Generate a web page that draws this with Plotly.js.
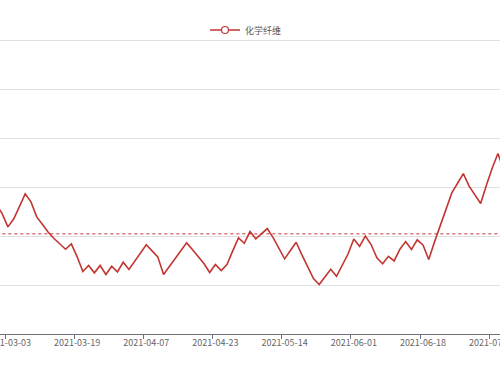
<!DOCTYPE html>
<html>
<head>
<meta charset="utf-8">
<script src="https://cdn.plot.ly/plotly-3.0.1.min.js"></script>
<style>html,body{margin:0;padding:0;background:#fff;}#chart{width:500px;height:375px;}</style>
</head>
<body>
<div id="chart"></div>
<script>
const seriesName = '化学纤维';
const dates = [
  '2021-03-01','2021-03-02','2021-03-03','2021-03-04','2021-03-05','2021-03-08','2021-03-09','2021-03-10','2021-03-11','2021-03-12',
  '2021-03-15','2021-03-16','2021-03-17','2021-03-18','2021-03-19','2021-03-22','2021-03-23','2021-03-24','2021-03-25','2021-03-26',
  '2021-03-29','2021-03-30','2021-03-31','2021-04-01','2021-04-02','2021-04-06','2021-04-07','2021-04-08','2021-04-09','2021-04-12',
  '2021-04-13','2021-04-14','2021-04-15','2021-04-16','2021-04-19','2021-04-20','2021-04-21','2021-04-22','2021-04-23','2021-04-26',
  '2021-04-27','2021-04-28','2021-04-29','2021-04-30','2021-05-06','2021-05-07','2021-05-10','2021-05-11','2021-05-12','2021-05-13',
  '2021-05-14','2021-05-17','2021-05-18','2021-05-19','2021-05-20','2021-05-21','2021-05-24','2021-05-25','2021-05-26','2021-05-27',
  '2021-05-28','2021-05-31','2021-06-01','2021-06-02','2021-06-03','2021-06-04','2021-06-07','2021-06-08','2021-06-09','2021-06-10',
  '2021-06-11','2021-06-15','2021-06-16','2021-06-17','2021-06-18','2021-06-21','2021-06-22','2021-06-23','2021-06-24','2021-06-25',
  '2021-06-28','2021-06-29','2021-06-30','2021-07-01','2021-07-02','2021-07-05','2021-07-06','2021-07-07','2021-07-08'
];
const values = [
  1321,1229,1093,1173,1300,1430,1348,1195,1117,1038,
  974,918,865,920,790,637,699,624,699,607,
  691,634,732,658,741,826,910,848,787,607,
  686,766,848,930,862,790,719,627,709,648,
  709,848,981,926,1045,972,1022,1076,984,873,
  767,852,936,807,678,566,505,586,661,589,
  699,816,969,895,999,913,777,717,793,746,
  865,943,862,961,908,760,940,1110,1277,1440,
  1538,1637,1509,1416,1331,1517,1691,1841,1678
];
const meanValue = [1022, 1022];
const meanDates = [dates[0], dates[dates.length - 1]];
const tickDates = ['2021-03-03','2021-03-19','2021-04-07','2021-04-23','2021-05-14','2021-06-01','2021-06-18','2021-07-06'];

const red = '#c23531';
const axisGray = '#6e7079';
const fontFam = '"Noto Sans CJK SC", "Noto Sans", sans-serif';
const xRange = [0.630, 87.358];

const traces = [
  {
    x: dates, y: values, type: 'scatter', mode: 'lines', name: seriesName,
    line: {color: red, width: 1.6}, showlegend: false, hoverinfo: 'x+y'
  },
  {
    x: meanDates, y: meanValue, type: 'scatter', mode: 'lines',
    line: {color: red, width: 1, dash: '3px,3px'}, showlegend: false, hoverinfo: 'skip'
  },
  {
    x: [null], y: [null], type: 'scatter', mode: 'lines+markers', name: seriesName,
    line: {color: red, width: 1.6},
    marker: {symbol: 'circle', size: 7, color: '#ffffff', line: {color: red, width: 1.2}},
    showlegend: true, hoverinfo: 'skip'
  },
  {
    x: [], y: [], xaxis: 'x2', type: 'scatter', mode: 'lines', showlegend: false, hoverinfo: 'skip'
  }
];

const layout = {
  width: 500, height: 375,
  margin: {l: 0, r: 0, t: 30, b: 41, pad: 0},
  paper_bgcolor: '#ffffff', plot_bgcolor: '#ffffff',
  font: {family: fontFam, size: 9, color: '#666'},
  showlegend: true,
  legend: {
    orientation: 'h', x: 0.41, xanchor: 'left', y: 1.0, yanchor: 'middle',
    font: {family: fontFam, size: 9, color: '#555'}, bgcolor: 'rgba(0,0,0,0)'
  },
  xaxis: {
    type: 'category', range: xRange,
    tickmode: 'array', tickvals: tickDates, ticktext: tickDates,
    ticks: '', showgrid: false, zeroline: false,
    showline: true, linecolor: axisGray, linewidth: 1,
    tickfont: {family: fontFam, size: 9, color: '#666'}
  },
  xaxis2: {
    type: 'linear', overlaying: 'x', anchor: 'y', side: 'bottom', range: xRange,
    tickmode: 'array', tickvals: tickDates.map(d => dates.indexOf(d) - 0.5),
    ticks: 'outside', ticklen: 4, tickcolor: axisGray, tickwidth: 1,
    showticklabels: false, showgrid: false, zeroline: false, showline: false
  },
  yaxis: {
    range: [0, 3102], tickmode: 'array', tickvals: [500, 1000, 1500, 2000, 2500, 3000],
    showgrid: true, gridcolor: '#e0e0e0', gridwidth: 1,
    zeroline: false, showline: false, showticklabels: false, ticks: ''
  }
};

Plotly.newPlot('chart', traces, layout, {displayModeBar: false, staticPlot: true});
</script>
</body>
</html>
